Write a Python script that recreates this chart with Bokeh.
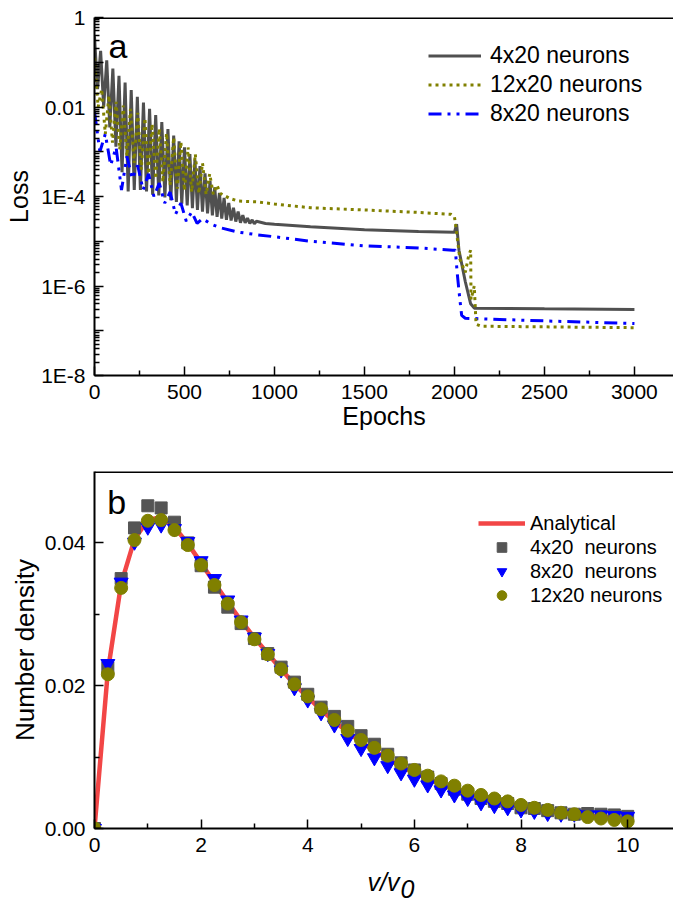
from bokeh.plotting import figure
from bokeh.layouts import column
from bokeh.models import (FixedTicker, CustomJSTickFormatter, Span, Label, Legend,
                          LegendItem, Range1d, PrintfTickFormatter)
from bokeh.embed import file_html
from bokeh.resources import INLINE

FONT = "Liberation Sans"

# ---------------- panel a data (Loss vs Epochs) ----------------
epochs_4x20 = [0, 17, 34, 51, 68, 85, 102, 119, 136, 153, 170, 187, 204, 221, 238, 255, 272, 289, 306, 323,
               340, 357, 374, 391, 408, 424, 440, 455, 470, 485, 500, 515, 530, 544, 558, 572, 586, 600, 614, 628,
               642, 655, 668, 681, 694, 707, 720, 733, 746, 759, 772, 785, 798, 811, 824, 837, 850, 863, 876, 888,
               900, 950, 1000, 1200, 1500, 1800, 2000, 2012, 2025, 2060, 2090, 2110, 2500, 3000]
loss_4x20 = [3.8e-1, 2.5e-2, 1.8e-1, 1.0e-2, 1.1e-1, 3.5e-3, 7.2e-2, 1.3e-3, 5.0e-2, 3.5e-4,
             3.5e-2, 1.3e-4, 2.4e-2, 1.4e-4, 1.7e-2, 1.4e-4, 1.26e-2, 1.3e-4, 9.1e-3, 1.1e-4,
             6.6e-3, 1.05e-4, 4.6e-3, 9.5e-5, 3.2e-3, 8.3e-5, 2.3e-3, 7.6e-5, 1.7e-3, 6.9e-5,
             1.26e-3, 6.3e-5, 8.9e-4, 5.5e-5, 6.6e-4, 5.0e-5, 4.8e-4, 4.6e-5, 3.3e-4, 4.2e-5,
             2.2e-4, 3.8e-5, 1.6e-4, 3.5e-5, 1.2e-4, 3.2e-5, 9.3e-5, 3.0e-5, 7.2e-5, 2.9e-5,
             5.6e-5, 2.75e-5, 4.6e-5, 2.6e-5, 3.8e-5, 2.57e-5, 3.3e-5, 2.5e-5, 3.0e-5, 2.45e-5,
             2.8e-5, 2.5e-5, 2.4e-5, 2.1e-5, 1.8e-5, 1.66e-5, 1.58e-5, 2.4e-5, 6.3e-6, 1.26e-6,
             4.0e-7, 3.2e-7, 3.1e-7, 3.0e-7]

epochs_12x20 = [0, 20, 40, 60, 80, 100, 120, 140, 160, 180, 200, 220, 240, 260, 280, 300, 320, 340, 360, 380,
                400, 420, 440, 460, 480, 500, 520, 540, 560, 580, 600, 620, 640, 660, 680,
                700, 750, 800, 900, 1000, 1200, 1500, 1800, 1980, 2000,
                2010, 2030, 2060, 2080, 2090, 2092, 2110, 2120, 2150, 3000]
loss_12x20 = [1.26e-1, 1.0e-2, 2.5e-2, 2.5e-3, 1.8e-2, 1.6e-3, 1.3e-2, 1.12e-3, 1.07e-2, 7.9e-4,
              9.1e-3, 5.6e-4, 7.4e-3, 4.0e-4, 5.6e-3, 3.2e-4, 4.2e-3, 2.5e-4, 3.3e-3, 2.1e-4,
              2.6e-3, 1.8e-4, 2.1e-3, 1.5e-4, 1.66e-3, 1.35e-4, 1.26e-3, 1.26e-4, 8.9e-4, 1.17e-4,
              5.6e-4, 1.12e-4, 3.2e-4, 1.12e-4, 1.8e-4,
              1.17e-4, 9.1e-5, 7.9e-5, 7.6e-5, 6.8e-5, 5.6e-5, 5.0e-5, 4.4e-5, 4.0e-5, 3.5e-5,
              1.8e-5, 4.0e-6, 2.0e-6, 5.0e-6, 6.3e-6, 5.0e-7, 1.0e-6, 1.4e-7, 1.26e-7, 1.17e-7]

epochs_8x20 = [0, 30, 60, 90, 120, 150, 180, 210, 240, 270, 300, 330, 360, 390, 420, 450, 480, 510, 540, 570,
               600, 650, 700, 800, 900, 1000, 1200, 1500, 1800, 1990, 2005, 2015, 2030, 2040, 2060, 2500, 3000]
loss_8x20 = [7.9e-3, 1.0e-3, 2.5e-3, 5.0e-4, 1.26e-3, 1.4e-4, 7.9e-4, 2.5e-4, 5.0e-4, 1.4e-4,
             3.2e-4, 1.0e-4, 2.0e-4, 7.1e-5, 1.26e-4, 4.0e-5, 7.1e-5, 2.8e-5, 4.5e-5, 2.5e-5,
             3.2e-5, 2.4e-5, 2.0e-5, 1.6e-5, 1.4e-5, 1.26e-5, 1.0e-5, 7.9e-6, 7.1e-6, 6.3e-6,
             6.3e-6, 2.0e-6, 5.0e-7, 2.2e-7, 1.9e-7, 1.66e-7, 1.45e-7]

loss_major_ticks = [1e-8, 1e-7, 1e-6, 1e-5, 1e-4, 1e-3, 1e-2, 1e-1, 1]
epoch_ticks = [0, 500, 1000, 1500, 2000, 2500, 3000]

# ---------------- panel b data (Number density vs v/v0) ----------------
v_ratio = [0, 0.25, 0.5, 0.75, 1.0, 1.25, 1.5, 1.75, 2.0, 2.25, 2.5, 2.75, 3.0, 3.25, 3.5, 3.75, 4.0,
           4.25, 4.5, 4.75, 5.0, 5.25, 5.5, 5.75, 6.0, 6.25, 6.5, 6.75, 7.0, 7.25, 7.5, 7.75, 8.0,
           8.25, 8.5, 8.75, 9.0, 9.25, 9.5, 9.75, 10.0]
nd_analytical = [0, 0.0220, 0.0343, 0.0405, 0.0432, 0.0436, 0.0422, 0.0399, 0.0372, 0.0344, 0.0317,
                 0.0291, 0.0267, 0.0245, 0.0223, 0.0202, 0.0184, 0.0166, 0.0150, 0.0135, 0.0121,
                 0.0109, 0.0097, 0.0087, 0.0078, 0.0070, 0.0062, 0.0055, 0.0049, 0.0044, 0.0039,
                 0.0035, 0.0031, 0.0028, 0.0025, 0.0022, 0.0020, 0.0018, 0.0016, 0.0015, 0.0013]
nd_4x20 = [0, 0.0225, 0.0350, 0.0421, 0.0452, 0.0449, 0.0429, 0.0400, 0.0368, 0.0338, 0.0310,
           0.0287, 0.0266, 0.0245, 0.0226, 0.0205, 0.0188, 0.0170, 0.0157, 0.0143, 0.0130,
           0.0118, 0.0104, 0.0092, 0.0082, 0.0072, 0.0063, 0.0055, 0.0048, 0.0042, 0.0038,
           0.0035, 0.0029, 0.0028, 0.0025, 0.0022, 0.0020, 0.0021, 0.0020, 0.0019, 0.0017]
nd_8x20 = [0, 0.0231, 0.0345, 0.0401, 0.0422, 0.0425, 0.0420, 0.0402, 0.0375, 0.0350, 0.0320,
           0.0292, 0.0268, 0.0245, 0.0222, 0.0197, 0.0180, 0.0162, 0.0145, 0.0126, 0.0112,
           0.0099, 0.0088, 0.0078, 0.0069, 0.0061, 0.0054, 0.0047, 0.0042, 0.0036, 0.0032,
           0.0029, 0.0026, 0.0024, 0.0021, 0.0020, 0.0020, 0.0019, 0.0019, 0.0018, 0.0017]
nd_12x20 = [0, 0.0216, 0.0337, 0.0404, 0.0431, 0.0432, 0.0418, 0.0397, 0.0369, 0.0341, 0.0315,
            0.0289, 0.0265, 0.0244, 0.0223, 0.0202, 0.0185, 0.0167, 0.0152, 0.0137, 0.0124,
            0.0113, 0.0102, 0.0091, 0.0082, 0.0074, 0.0066, 0.0060, 0.0053, 0.0047, 0.0042,
            0.0038, 0.0033, 0.0029, 0.0026, 0.0022, 0.0020, 0.0016, 0.0014, 0.0012, 0.0010]
v_ticks = [0, 2, 4, 6, 8, 10]
nd_ticks = [0.0, 0.02, 0.04]


def style_axis(ax, label_size="21px"):
    ax.axis_line_width = 2
    ax.axis_line_color = "black"
    ax.major_tick_in = 9
    ax.major_tick_out = 0
    ax.minor_tick_in = 5
    ax.minor_tick_out = 0
    ax.major_tick_line_width = 1.5
    ax.minor_tick_line_width = 1.5
    ax.major_tick_line_color = "black"
    ax.minor_tick_line_color = "black"
    ax.major_label_text_font = FONT
    ax.major_label_text_font_size = label_size
    ax.major_label_text_color = "black"
    ax.major_label_standoff = 9
    ax.axis_label_text_font = FONT
    ax.axis_label_text_font_size = "25px"
    ax.axis_label_text_font_style = "normal"
    ax.axis_label_text_color = "black"


# ---------------- panel a ----------------
p1 = figure(width=673, height=440, x_range=Range1d(0, 3217), y_range=Range1d(1e-8, 1),
            y_axis_type="log", output_backend="svg", toolbar_location=None,
            min_border_left=93, min_border_right=0, min_border_top=17, min_border_bottom=65)
p1.outline_line_color = None
p1.xgrid.visible = False
p1.ygrid.visible = False
p1.background_fill_color = "white"
p1.border_fill_color = "white"

minor_log = [k * 10.0 ** d for d in range(-8, 0) for k in range(2, 10)]
p1.yaxis.ticker = FixedTicker(ticks=loss_major_ticks, minor_ticks=minor_log)
p1.yaxis.formatter = CustomJSTickFormatter(code="""
const e = Math.round(Math.log10(tick));
const m = {"0": "1", "-2": "0.01", "-4": "1E-4", "-6": "1E-6", "-8": "1E-8"};
return (String(e) in m) ? m[String(e)] : "";
""")
p1.xaxis.ticker = FixedTicker(ticks=epoch_ticks, minor_ticks=[250, 750, 1250, 1750, 2250, 2750, 3250])
style_axis(p1.xaxis[0])
style_axis(p1.yaxis[0])
p1.xaxis.axis_label = "Epochs"
p1.yaxis.axis_label = "Loss"
p1.xaxis.axis_label_standoff = 0
p1.yaxis.axis_label_standoff = 5

p1.add_layout(Span(location=1, dimension="width", line_color="black", line_width=3))

r_g = p1.line(epochs_4x20, loss_4x20, line_color="#505050", line_width=3)
r_b = p1.line(epochs_8x20, loss_8x20, line_color="#0000ff", line_width=3, line_dash="13 6 3 6 3 6")
r_o = p1.line(epochs_12x20, loss_12x20, line_color="#808000", line_width=3, line_dash="3 4")

p1.add_layout(Label(x=78, y=0.225, text="a", text_font=FONT, text_font_size="34px",
                    text_color="black", text_baseline="middle"))

leg1 = Legend(items=[LegendItem(label="4x20 neurons", renderers=[r_g]),
                     LegendItem(label="12x20 neurons", renderers=[r_o]),
                     LegendItem(label="8x20 neurons", renderers=[r_b])],
              location=(334, 247), glyph_width=53, glyph_height=29, label_height=29,
              label_standoff=9, spacing=0, padding=0, margin=0,
              label_text_font=FONT, label_text_font_size="23px", label_text_color="black",
              border_line_color=None, background_fill_alpha=0)
p1.add_layout(leg1, "center")

# ---------------- panel b ----------------
p2 = figure(width=673, height=423, x_range=Range1d(0, 10.86), y_range=Range1d(0, 0.05),
            output_backend="svg", toolbar_location=None,
            min_border_left=94, min_border_right=0, min_border_top=31, min_border_bottom=35)
p2.outline_line_color = None
p2.xgrid.visible = False
p2.ygrid.visible = False
p2.background_fill_color = "white"
p2.border_fill_color = "white"

p2.xaxis.ticker = FixedTicker(ticks=v_ticks, minor_ticks=[1, 3, 5, 7, 9])
p2.yaxis.ticker = FixedTicker(ticks=nd_ticks, minor_ticks=[0.01, 0.03])
p2.yaxis.formatter = PrintfTickFormatter(format="%.2f")
style_axis(p2.xaxis[0])
style_axis(p2.yaxis[0])
p2.yaxis.axis_label = "Number density"
p2.yaxis.axis_label_standoff = 2
p2.yaxis.axis_label_text_font_size = "26px"

p2.add_layout(Span(location=0.05, dimension="width", line_color="black", line_width=3))

r_an = p2.line(v_ratio, nd_analytical, line_color="#f24646", line_width=4.5)
r_sq = p2.scatter(v_ratio, nd_4x20, marker="square", size=12, fill_color="#555555",
                  line_color="#555555")
r_tr = p2.scatter(v_ratio, nd_8x20, marker="inverted_triangle", size=14, fill_color="#0000ff",
                  line_color="#0000ff")
r_ci = p2.scatter(v_ratio, nd_12x20, marker="circle", size=13, fill_color="#808000",
                  line_color="#808000")

p2.add_layout(Label(x=0.24, y=0.0457, text="b", text_font=FONT, text_font_size="34px",
                    text_color="black", text_baseline="middle"))

leg2 = Legend(items=[LegendItem(label="Analytical", renderers=[r_an]),
                     LegendItem(label="4x20  neurons", renderers=[r_sq]),
                     LegendItem(label="8x20  neurons", renderers=[r_tr]),
                     LegendItem(label="12x20 neurons", renderers=[r_ci])],
              location=(384, 221), glyph_width=47, glyph_height=24, label_height=24,
              label_standoff=5, spacing=0, padding=0, margin=0,
              label_text_font=FONT, label_text_font_size="20px", label_text_color="black",
              border_line_color=None, background_fill_alpha=0)
p2.add_layout(leg2, "center")

# ---------------- x-axis title strip for panel b (v/v0 with subscript) ----------------
p3 = figure(width=673, height=40, x_range=p2.x_range, y_range=Range1d(0, 40),
            output_backend="svg", toolbar_location=None,
            x_axis_location=None, y_axis_location=None,
            min_border_left=94, min_border_right=0, min_border_top=0, min_border_bottom=0)
p3.outline_line_color = None
p3.grid.visible = False
p3.background_fill_color = "white"
p3.border_fill_color = "white"
p3.add_layout(Label(x=5.12, y=22, text="v/v", text_font=FONT, text_font_size="25px",
                    text_font_style="italic", text_color="black", text_baseline="middle"))
p3.add_layout(Label(x=5.74, y=15, text="0", text_font=FONT, text_font_size="25px",
                    text_font_style="italic", text_color="black", text_baseline="middle"))

layout = column(p1, p2, p3, spacing=0)
open("out.html", "w").write(file_html(layout, INLINE))
